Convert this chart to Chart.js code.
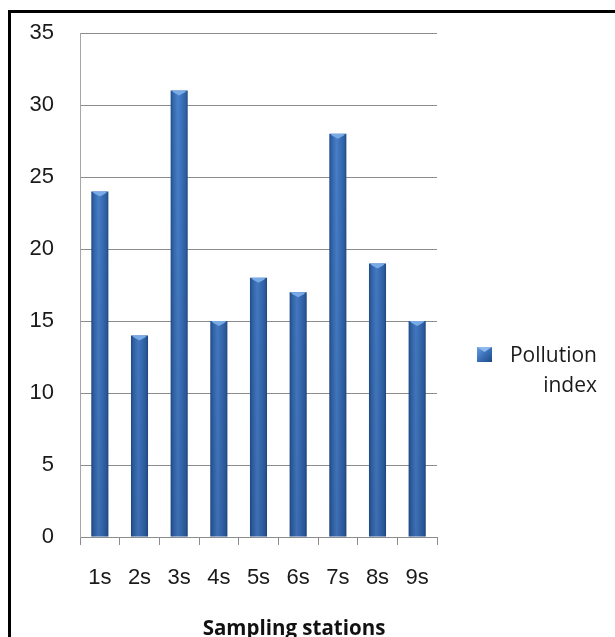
<!DOCTYPE html>
<html>
<head>
<meta charset="utf-8">
<script src="https://cdn.jsdelivr.net/npm/chart.js@4"></script>
<style>
  html, body { margin: 0; padding: 0; background: #ffffff; }
  #wrap { width: 615px; height: 637px; position: relative; }
</style>
</head>
<body>
<div id="wrap"><canvas id="c" width="615" height="637"></canvas></div>
<script>
// Pollution index per sampling station
const stations = ['1s', '2s', '3s', '4s', '5s', '6s', '7s', '8s', '9s'];
const pollutionIndex = [24, 14, 31, 15, 18, 17, 28, 19, 15];
const yTickValues = [0, 5, 10, 15, 20, 25, 30, 35];
const seriesLabel = ['Pollution', 'index'];
const xAxisTitle = 'Sampling stations';

const BAR_PCT = 0.43;

// Cylinder-like shading across each bar's width
function barGradient(ctx) {
  const chart = ctx.chart;
  const xs = chart.scales && chart.scales.x;
  if (!chart.chartArea || !xs || ctx.dataIndex === undefined) return '#3a6fb8';
  const cx = xs.getPixelForValue(ctx.dataIndex);
  const w = (xs.width / stations.length) * BAR_PCT;
  const g = chart.ctx.createLinearGradient(cx - w / 2, 0, cx + w / 2, 0);
  g.addColorStop(0, '#234f8c');
  g.addColorStop(0.15, '#3469b0');
  g.addColorStop(0.42, '#4a83cd');
  g.addColorStop(0.65, '#3d73bd');
  g.addColorStop(0.88, '#2f62a6');
  g.addColorStop(1, '#204a84');
  return g;
}

// Frame, bar caps, bottom shading, legend and axis title
const decorations = {
  id: 'decorations',
  beforeDraw(chart) {
    const c = chart.ctx;
    c.save();
    c.fillStyle = '#ffffff';
    c.fillRect(0, 0, chart.width, chart.height);
    c.strokeStyle = '#000000';
    c.lineWidth = 3;
    c.beginPath();
    c.moveTo(9.5, chart.height + 10);
    c.lineTo(9.5, 11.5);
    c.lineTo(chart.width + 10, 11.5);
    c.stroke();
    c.restore();
  },
  afterDatasetsDraw(chart) {
    const c = chart.ctx;
    const area = chart.chartArea;
    const meta = chart.getDatasetMeta(0);
    c.save();
    meta.data.forEach((bar) => {
      const left = bar.x - bar.width / 2;
      const right = bar.x + bar.width / 2;
      // darker towards the floor
      const shade = c.createLinearGradient(0, area.top, 0, area.bottom);
      shade.addColorStop(0, 'rgba(10,30,70,0)');
      shade.addColorStop(1, 'rgba(10,30,70,0.2)');
      c.fillStyle = shade;
      c.fillRect(left, bar.y, bar.width, bar.base - bar.y);
      // light cap on top
      c.fillStyle = '#78aae6';
      c.beginPath();
      c.moveTo(left + 1, bar.y);
      c.lineTo(right - 1, bar.y);
      c.lineTo(right - 3, bar.y + 2);
      c.lineTo(bar.x, bar.y + 5);
      c.lineTo(left + 3, bar.y + 2);
      c.closePath();
      c.fill();
    });
    c.restore();
  },
  afterDraw(chart) {
    const c = chart.ctx;
    const area = chart.chartArea;
    c.save();
    // legend marker
    const mx = area.right + 40, my = 347, ms = 15;
    const mg = c.createLinearGradient(mx, my, mx + ms, my + ms);
    mg.addColorStop(0, '#6b9ee0');
    mg.addColorStop(0.5, '#3a70b8');
    mg.addColorStop(1, '#1e4a85');
    c.fillStyle = mg;
    c.fillRect(mx, my, ms, ms);
    c.fillStyle = '#8fb8ee';
    c.beginPath();
    c.moveTo(mx, my);
    c.lineTo(mx + ms, my);
    c.lineTo(mx + ms / 2, my + 5);
    c.closePath();
    c.fill();
    // legend text, right aligned
    c.fillStyle = '#1a1a1a';
    c.font = '21px "Open Sans"';
    c.textAlign = 'right';
    c.textBaseline = 'alphabetic';
    const tx = area.right + 160;
    c.fillText(seriesLabel[0], tx, 362);
    c.fillText(seriesLabel[1], tx, 392);
    // axis title
    c.font = 'bold 20.5px "Open Sans"';
    c.textAlign = 'center';
    c.fillStyle = '#111111';
    c.fillText(xAxisTitle, area.left + 214, 635);
    c.restore();
  }
};

new Chart(document.getElementById('c'), {
  type: 'bar',
  data: {
    labels: stations,
    datasets: [{
      label: seriesLabel.join(' '),
      data: pollutionIndex,
      backgroundColor: barGradient,
      borderWidth: 0,
      barPercentage: BAR_PCT,
      categoryPercentage: 1
    }]
  },
  options: {
    responsive: false,
    animation: false,
    devicePixelRatio: 1,
    layout: { padding: { left: 0, top: 33, right: 178, bottom: 0 } },
    plugins: {
      legend: { display: false },
      tooltip: { enabled: false },
      title: { display: false }
    },
    scales: {
      x: {
        grid: {
          display: true,
          drawOnChartArea: false,
          drawTicks: true,
          tickLength: 8,
          color: '#8c8c8c',
          offset: true
        },
        border: { display: true, color: '#8c8c8c', width: 1 },
        ticks: {
          color: '#1a1a1a',
          font: { family: 'Liberation Sans', size: 22 },
          padding: 20,
          maxRotation: 0,
          autoSkip: false
        },
        afterFit(scale) { scale.height = 100; }
      },
      y: {
        min: 0,
        max: 35,
        afterBuildTicks(scale) {
          scale.ticks = yTickValues.map((v) => ({ value: v }));
        },
        grid: { color: '#8c8c8c', drawTicks: false, lineWidth: 1 },
        border: { display: true, color: '#a6a6a6', width: 1 },
        ticks: {
          color: '#1a1a1a',
          font: { family: 'Liberation Sans', size: 22 },
          padding: 26
        },
        afterFit(scale) {
          scale.width = 80;
          scale.paddingTop = 0;
          scale.paddingBottom = 0;
        }
      }
    }
  },
  plugins: [decorations]
});
</script>
</body>
</html>
